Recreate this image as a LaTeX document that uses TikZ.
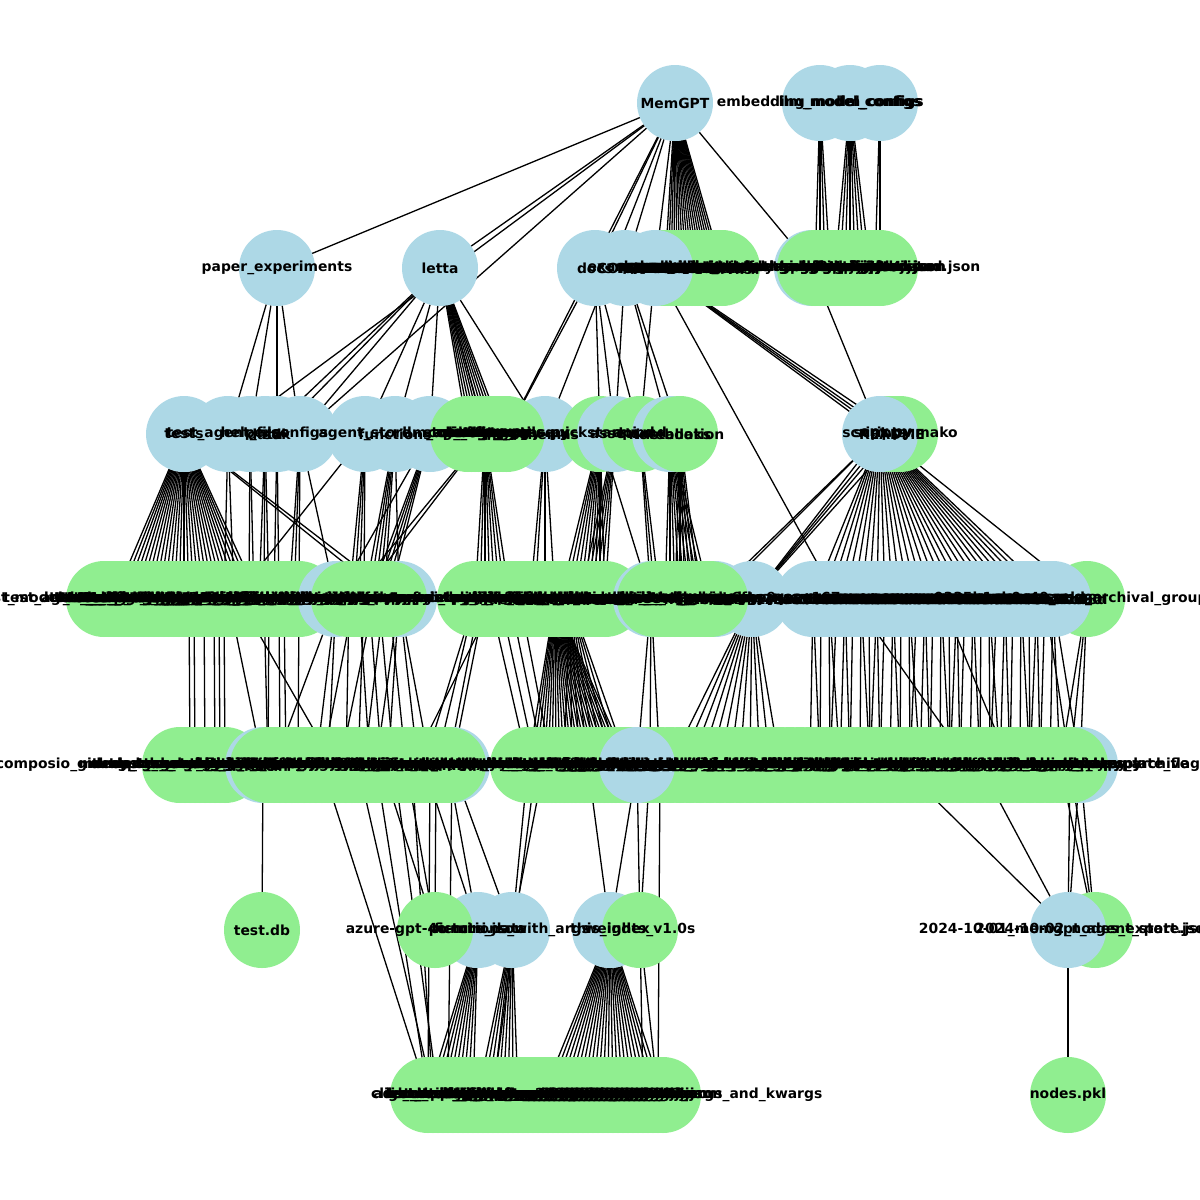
\documentclass[tikz,border=0pt]{standalone}
\usepackage{fontspec}
\setmainfont{DejaVu Sans}
\definecolor{lb}{RGB}{173,216,230}
\definecolor{lg}{RGB}{144,238,144}
\pgfdeclarelayer{bg}\pgfsetlayers{bg,main}
\tikzset{
  dn/.style={circle,fill=lb,minimum size=76pt,inner sep=0pt,outer sep=0pt},
  fn/.style={circle,fill=lg,minimum size=76pt,inner sep=0pt,outer sep=0pt},
  lbl/.style={font=\bfseries\fontsize{13.9}{16}\selectfont,inner sep=0pt},
  ed/.style={draw=black,line width=1.3pt},
}
\newcommand\grp[6]{\foreach \l [count=\i] in #6 {\pgfmathsetmacro\xx{#3+#4*(\i-1)}\node[#1] (#2\i) at (\xx,#5) {};}}
\newcommand\grplbl[2]{\foreach \l [count=\i] in #2 {\node[lbl] at (#1\i) {\l};}}
\def\Lf{README.md,LICENSE,CONTRIBUTING.md,PRIVACY.md,TERMS.md,pyproject.toml,poetry.lock,main.py,Dockerfile,dev-compose.yaml,compose.yaml,alembic.ini,.gitignore,.dockerignore,.env.example,CITATION.cff,nginx.conf,db.sqlite,locust\_test.py,init.sql}
\def\Lj{openai-gpt-4o.json,azure-gpt-4o-mini.json,letta-hosted.json,together-llama-3-70b.json,claude-3-opus.json,gemini-pro.json,groq.json,ollama.json,lmstudio.json,vllm.json,memgpt-hosted.json,openai-gpt-4.json,azure-embed.json,hugging-face-hosted.json}
\def\Lv{agent.py,client.py,config.py,constants.py,errors.py,main.py,utils.py,\_\_init\_\_.py,streaming\_utils.py,helpers.py,orm.py,data\_sources.py}
\def\Lra{test\_model\_letta\_perfomance.py,test\_agent\_serialization.py,test\_client.py,test\_server.py,test\_local\_client.py,test\_summarize.py,test\_tools.py,test\_memory.py,test\_storage.py,test\_cli.py,test\_websocket\_server.py,test\_function\_parser.py,test\_json\_parsers.py,test\_schema\_generator.py,test\_base\_functions.py,test\_autogen\_integration.py,test\_concurrent\_connections.py,test\_different\_embedding\_size.py,test\_endpoints.py,test\_agent\_function\_update.py,test\_tool\_rule\_solver.py,test\_o1\_agent.py,test\_new\_cli.py,test\_openai\_client.py,test\_persistence.py,test\_providers.py,test\_sdk\_client.py,test\_stream\_buffer\_readers.py,test\_timezone\_formatting.py,test\_utils.py,test\_vector\_embeddings.py,test\_ollama.py,test\_admin\_client.py,test\_cli\_integration.py,test\_agent\_tool\_graph.py,test\_local\_llm.py,test\_quickstart.py,test\_tool\_execution\_sandbox.py,conftest.py,pytest.ini}
\def\Lrb{memory.py,credentials.py,settings.py,system.py,log.py,interface.py,streaming\_interface.py,metadata.py,presets.py}
\def\Lrc{openai\_backcompat.py,data\_types.py,embeddings.py,persistence\_manager.py,cli.py,cli\_config.py,cli\_load.py,index.md,quickstart.md,python\_client.md,config.md,storage.md,api.md,cli\_faq.md,discord\_bot.md,embedding\_endpoints.md,example\_chat.md,example\_data.md,functions.md,koboldcpp.md,llamacpp.md,lmstudio.md,local\_llm.md,ollama.md,vllm.md,webui.md,autogen.md}
\def\Lrd{memgpt\_example.py,tool\_rule\_usage.py,composio\_tool\_usage.py,langchain\_tool\_usage.py,crewai\_tool\_usage.py,openai\_client\_assistants.py,swarm.py,docs\_example.py,helper.py,resend\_example.py,notebooks,tutorials}
\def\Lrf{1c8880d671ee,7b189006c97d,9a505cc7eca9,b6d7ca024aa9,c5d964280dff,cda66b6cb0d6,d05669b60ebe,e1a625072dbf,f7507eab4bb9,08b2f8225812,0c315956709d,15b577c62f3f,1e553a664210,22a6e413d89c,3c683a662c82,4e88e702f85e,54dec07619c4,5987401b40ae,6fbe9cace167,7778731d15e2,8d70372ad130,90bb156e71df,95badb46fdf9,a113caac453e,b183663c6769,c85a3d07c028,d14ae606614c,d6632deac81d,e20573fe9b86,ee50a967e090,f81ceea2c08d}
\def\Lqa{composio\_github\_star\_agent\_with\_tool\_rules.af,deep\_research\_agent.af,customer\_service.af,memgpt\_agent\_with\_convo.af,outreach\_workflow\_agent.af,max\_messages.af,knowledge-base.af,chat-with-pdf.af,long\_running\_kill\_agent.af,mock\_alice.af}
\def\Lqb{openai-gpt-4o.json,azure-gpt-4o-mini.json,claude-3-5-sonnet.json,gemini-pro.json,groq.json,ollama.json,together-qwen-2.5-72b.json,letta-hosted.json,lmstudio.json,bedrock-claude-3-5.json,xai-grok-2.json,deepseek-reasoner.json,mistral-large.json,openai-o1-mini.json,vllm.json,koboldcpp.json,llamacpp.json,webui.json,memgpt\_openai.json,memgpt\_hosted.json,sam\_pov.txt,memgpt\_starter.txt,cs\_phd.txt,basic.txt,sam.txt,anna\_pa.txt,google\_search\_persona.txt,memgpt\_doc.txt,o1\_persona.txt,sqldb.txt,space\_explorer.txt}
\def\Lqc{letta\_logo.png,letta-diagram.png,memgpt-system-diagram.png,cpp\_model\_select.png,discord\_bot.png,kobold\_model\_select.png,lmstudio\_settings.png,ollama\_settings.png,webui\_model\_select.png,quickstart\_image.png,python\_client\_test.png,dev\_portal\_agent.png,ade\_screenshot.png,agent\_create.png,tools\_panel.png,memory\_panel.png,context\_window.png,api\_keys.png,archival\_memory.png,data\_sources.png,simple\_agent.png,model\_selector.png,letta\_cloud.png,web\_ui.png,agent\_settings.png,login.png}
\def\Lqd{create\_a\_baseline\_migrations.py,add\_agents\_tags\_table.py,add\_tool\_rules\_to\_agents.py,make\_an\_blocks\_agents\_mapping\_table.py,add\_organization\_to\_passages.py,remove\_module\_field\_on\_tool.py,add\_cascading\_deletes.py,add\_message\_index.py,add\_sandbox\_config\_table.py,add\_provider\_table.py,migrate\_message\_to\_orm.py,add\_tools\_to\_org.py,add\_step\_table.py,add\_job\_usage\_table.py,add\_block\_history.py,rename\_llm\_config.py,add\_is\_deleted\_to\_agents.py,add\_identity\_table.py,add\_agent\_type.py,add\_otid\_column.py,add\_batch\_items.py,add\_template\_columns.py,add\_embedding\_config.py,add\_group\_table.py,add\_sleeptime\_agent.py,add\_run\_completion.py,add\_passages\_org.py,add\_source\_metadata.py,add\_tags\_to\_tools.py,add\_message\_buffer.py,add\_file\_table.py,add\_llm\_batch\_jobs.py,add\_agent\_env\_vars.py,add\_mcp\_servers.py,add\_per\_agent\_locks.py,add\_tool\_return\_char\_limit.py,add\_project\_id.py,add\_timezone.py,add\_message\_group\_id.py,add\_archival\_groups.py,add\_sandbox\_env\_vars.py,add\_last\_run\_ms.py,add\_job\_callbacks.py,add\_agent\_hidden\_and\_template\_flags.py}
\def\Lsa{client\_tools.py,list\_tools.py,add\_numbers.py,multiply.py,get\_weather.py,send\_message.py,search\_web.py,read\_file.py,write\_file.py,query\_db.py,roll\_dice.py,sleep\_tool.py,echo\_tool.py,fetch\_url.py,summarize.py,translate.py,calculator.py,timer.py,weather\_api.py,hello\_world.py}
\begin{document}
\begin{tikzpicture}[x=1pt,y=-1pt]
\useasboundingbox (0,0) rectangle (1200,1200);
% ================= circles (drawing order matters)
% row 0
\node[dn] (m) at (675,103) {};
\node[dn] (c1) at (820,103) {};
\node[dn] (c2) at (850,103) {};
\node[dn] (c3) at (880,103) {};
% row 1
\node[dn] (pe) at (277,268) {};
\node[dn] (le) at (440,268) {};
\grp{fn}{f}{665}{3}{268}{\Lf}
\node[dn] (d1) at (595,268) {};
\node[dn] (d2) at (625,268) {};
\node[dn] (d3) at (655,268) {};
\node[dn] (rc) at (812,268) {};
\grp{fn}{j}{815}{5}{268}{\Lj}
% row 2
\node[dn] (t1) at (184,434) {};
\node[dn] (t2) at (228,434) {};
\node[dn] (t3) at (250,434) {};
\node[dn] (t4) at (265,434) {};
\node[dn] (t5) at (277,434) {};
\node[dn] (t6) at (300,434) {};
\node[dn] (u1) at (365,434) {};
\node[dn] (u2) at (395,434) {};
\node[dn] (u3) at (430,434) {};
\node[dn] (vb) at (485,434) {};
\node[dn] (u4) at (545,434) {};
\grp{fn}{v}{468}{3.5}{434}{\Lv}
\node[fn] (w1) at (600,434) {};
\node[dn] (wb) at (615,434) {};
\node[fn] (w2) at (640,434) {};
\node[dn] (wb2) at (670,434) {};
\node[fn] (w3) at (680,434) {};
\node[fn] (sg1) at (886,434) {};
\node[fn] (sg2) at (892,434) {};
\node[fn] (s2) at (900,434) {};
\node[dn] (s) at (880,434) {};
% row 3
\grp{fn}{r3a}{104}{5}{599}{\Lra}
\node[dn] (r3bb1) at (336,599) {};
\node[dn] (r3bb2) at (399,599) {};
\grp{fn}{r3b}{349}{5}{599}{\Lrb}
\grp{fn}{r3c}{475}{5}{599}{\Lrc}
\node[dn] (r3bc) at (651,599) {};
\node[dn] (r3e1) at (715,599) {};
\node[dn] (r3e2) at (752,599) {};
\grp{fn}{r3d}{655}{5}{599}{\Lrd}
\node[fn] (r3gz) at (1087,599) {};
\grp{dn}{r3f}{813}{8}{599}{\Lrf}
% row 4
\grp{fn}{r4a}{180}{5}{765}{\Lqa}
\node[dn] (r4x1) at (263,765) {};
\node[dn] (r4x2) at (452,765) {};
\grp{fn}{r4b}{268}{6}{765}{\Lqb}
\grp{fn}{r4c}{528}{4}{765}{\Lqc}
\node[dn] (r4x3) at (1080,765) {};
\grp{fn}{r4d}{640}{10}{765}{\Lqd}
\node[dn] (r4x4) at (637,765) {};
% row 5
\node[fn] (td) at (262,930) {};
\node[dn] (r5b1) at (478,930) {};
\node[dn] (r5b2) at (512,930) {};
\node[fn] (r5g1) at (435,930) {};
\node[dn] (r5b3) at (610,930) {};
\node[fn] (r5g2) at (640,930) {};
\node[fn] (r5g3) at (1095,930) {};
\node[dn] (r5b4) at (1068,930) {};
% row 6
\grp{fn}{r6a}{428}{5}{1095}{\Lsa}
\foreach \i in {21,...,47} {\pgfmathsetmacro\xx{428+5*(\i-1)}\node[fn] (r6a\i) at (\xx,1095) {};}
\node[fn] (r6a48) at (663,1095) {};
\node[fn] (np) at (1068,1095) {};
% ================= edges (behind the circles)
\begin{pgfonlayer}{bg}
\foreach \b in {pe,le,d1,d2,d3,rc,t2,t6,u4,v12} \draw[ed] (m) -- (\b);
\foreach \i in {1,...,20} \draw[ed] (m) -- (f\i);
\foreach \i in {1,...,4} \draw[ed] (c1) -- (j\i);
\foreach \i in {5,...,12} \draw[ed] (c2) -- (j\i);
\foreach \i in {13,14} \draw[ed] (c3) -- (j\i);
\foreach \b in {t2,t3,t5,t6} \draw[ed] (pe) -- (\b);
\foreach \b in {t4,t5,t6,u1,u2,u3,vb,v1,v2,v3,v4,v5,v6,v7,v8,v9,v10,v11,u4} \draw[ed] (le) -- (\b);
\foreach \b in {w1,wb,w2,v12} \draw[ed] (d1) -- (\b);
\foreach \b in {wb,wb2,w3} \draw[ed] (d2) -- (\b);
\foreach \b in {w2,s,s2,sg1,sg2,r3f4} \draw[ed] (d3) -- (\b);
\draw[ed] (rc) -- (s);
\foreach \i in {3,...,32} \draw[ed] (t1) -- (r3a\i);
\foreach \b in {r3bb2,r3b9} \draw[ed] (t1) -- (\b);
\foreach \i in {25,27} \draw[ed] (t2) -- (r3a\i);
\foreach \i in {30,31} \draw[ed] (t3) -- (r3a\i);
\foreach \i in {32,33,34} \draw[ed] (t4) -- (r3a\i);
\foreach \i in {35,36} \draw[ed] (t5) -- (r3a\i);
\foreach \b in {r3a38,r3a39,r3a40,r3bb1} \draw[ed] (t6) -- (\b);
\foreach \b in {r3a27,r3b1,r3b2,r3b3,r3b4} \draw[ed] (u1) -- (\b);
\foreach \b in {r3b4,r3b5,r3b6,r3b7,r3b8,r3bb2} \draw[ed] (u2) -- (\b);
\foreach \b in {r3b5,r3b6,r3b7,r3b8,r3b9,r3bb1} \draw[ed] (u3) -- (\b);
\foreach \b in {r3b1,r3b3,r3c1,r3c2,r3c3,r3c4,r3c5,r3c6,r3c7,r3c8} \draw[ed] (vb) -- (\b);
\foreach \b in {r3c12,r3c13,r3c15,r3c17} \draw[ed] (u4) -- (\b);
\foreach \i in {18,...,27} \draw[ed] (w1) -- (r3c\i);
\draw[ed] (w1) -- (r3bc);
\foreach \i in {22,...,27} \draw[ed] (wb) -- (r3c\i);
\foreach \b in {r3bc,r3d1,r3d2} \draw[ed] (w2) -- (\b);
\foreach \i in {3,...,12} \draw[ed] (wb2) -- (r3d\i);
\foreach \i in {5,...,10} \draw[ed] (w3) -- (r3d\i);
\foreach \b in {r3d12,r3e1,r3e2,r3gz} \draw[ed] (s) -- (\b);
\foreach \i in {1,...,31} \draw[ed] (s) -- (r3f\i);
\foreach \b in {s2,sg1,sg2} \draw[ed] (\b) -- (r3e2);
\foreach \p/\q in {r3a18/r4a3,r3a19/r4a4,r3a21/r4a6,r3a23/r4a8,r3a24/r4a9,r3a25/r4a10,r3a26/r4x1,r3a33/r4b1,r3a34/r4b1,r3a28/r4b12,r3a36/r4b3,r3a37/r4b4,r3a40/r4b6,r3bb1/r4b2,r3bb1/r4b9,r3bb1/r4b11,r3b1/r4b14,r3b2/r4b10,r3b3/r4b18,r3b4/r4b16,r3b5/r4b20,r3b6/r4b13,r3b7/r4b22,r3b8/r4b17,r3b9/r4b24,r3bb2/r4b19,r3bb2/r4b21,r3bb2/r4b26,r3bb2/r4b28,r3c1/r4b27,r3c1/r4b29,r3c2/r4b31,r3c3/r4x2,r3c4/r4c1,r3c5/r4b25,r3c6/r4c3,r3c8/r4c5,r3c10/r4c7}
  \draw[ed] (\p) -- (\q);
\foreach \i in {1,...,26} \draw[ed] (r3c17) -- (r4c\i);
\foreach \i in {10,12,...,26} \draw[ed] (r3c20) -- (r4c\i);
\foreach \b in {r4x4,r4d2,r4d3} \draw[ed] (r3bc) -- (\b);
\foreach \i in {4,...,15} \draw[ed] (r3e2) -- (r4d\i);
\foreach \i in {1,...,31} {\pgfmathtruncatemacro\jj{18+(\i-1)*0.8+0.5}\draw[ed] (r3f\i) -- (r4d\jj);}
\foreach \i in {1,3,...,31} {\pgfmathtruncatemacro\jj{19+(\i-1)*0.8+0.5}\draw[ed] (r3f\i) -- (r4d\jj);}
\foreach \p/\q in {r3f6/r4d34,r3f17/r4d38,r3f31/r4x3,r3gz/r4x3,r3gz/r4d44,r3f30/r4d44,r3gz/r4d43}
  \draw[ed] (\p) -- (\q);
\foreach \p/\q in {r4x1/td,r4b10/r6a1,r4b16/r6a2,r4b19/r6a1,r4b20/r5g1,r4b22/r6a3,r4b24/r5g1,r4b25/r6a2,r4b27/r5b1,r4b28/r6a1,r4b29/r5g1,r4b31/r5b1,r4x2/r5b2,r4x2/r6a5,r4c1/r5b2,r4c3/r6a14,r4c5/r5b2,r4c16/r5b3,r4x4/r5b3,r4x4/r5g2,r4d2/r5g2,r4d3/r6a47,r4d27/r5b4,r4d35/r5b4,r4x3/r5g3,r4x3/r5b4,r4d44/r5b4,r4d44/r5g3,r4d43/r5g3}
  \draw[ed] (\p) -- (\q);
\foreach \i in {1,...,10} \draw[ed] (r5b1) -- (r6a\i);
\foreach \i in {11,...,19} \draw[ed] (r5b2) -- (r6a\i);
\foreach \i in {24,...,48} \draw[ed] (r5b3) -- (r6a\i);
\foreach \i in {44,47} \draw[ed] (r5g2) -- (r6a\i);
\draw[ed] (r5b4) -- (np);
\end{pgfonlayer}
% ================= labels (on top of everything)
\node[lbl] at (m) {MemGPT};
\node[lbl] at (c1) {embedding\_model\_configs};
\node[lbl] at (c2) {llm\_model\_configs};
\node[lbl] at (c3) {llm\_configs};
\node[lbl] at (pe) {paper\_experiments};
\node[lbl] at (le) {letta};
\grplbl{f}{\Lf}
\node[lbl] at (d1) {docs};
\node[lbl] at (d2) {examples};
\node[lbl] at (d3) {alembic};
\node[lbl] at (rc) {configs};
\grplbl{j}{\Lj}
\node[lbl] at (t1) {tests};
\node[lbl] at (t2) {test\_agent\_files};
\node[lbl] at (t3) {helpers};
\node[lbl] at (t4) {data};
\node[lbl] at (t5) {sdk};
\node[lbl] at (t6) {configs};
\node[lbl] at (u1) {agent\_store};
\node[lbl] at (u2) {functions};
\node[lbl] at (u3) {llm\_api};
\node[lbl] at (vb) {server};
\node[lbl] at (u4) {schemas};
\grplbl{v}{\Lv}
\node[lbl] at (w1) {quickstart.md};
\node[lbl] at (wb) {assets};
\node[lbl] at (w2) {api.md};
\node[lbl] at (wb2) {notebooks};
\node[lbl] at (w3) {installation};
\node[lbl] at (sg1) {env.py};
\node[lbl] at (sg2) {README};
\node[lbl] at (s2) {script.py.mako};
\node[lbl] at (s) {scripts};
\grplbl{r3a}{\Lra}
\node[lbl] at (r3bb1) {local\_llm};
\node[lbl] at (r3bb2) {prompts};
\grplbl{r3b}{\Lrb}
\grplbl{r3c}{\Lrc}
\node[lbl] at (r3bc) {assets};
\node[lbl] at (r3e1) {swarm};
\node[lbl] at (r3e2) {alembic\_6fbe9cace167};
\grplbl{r3d}{\Lrd}
\node[lbl] at (r3gz) {0335b1eb9c40\_add\_archival\_groups.py};
\grplbl{r3f}{\Lrf}
\grplbl{r4a}{\Lqa}
\node[lbl] at (r4x1) {data};
\node[lbl] at (r4x2) {sandbox};
\grplbl{r4b}{\Lqb}
\grplbl{r4c}{\Lqc}
\node[lbl] at (r4x3) {saved\_agent\_states\_archive};
\grplbl{r4d}{\Lqd}
\node[lbl] at (r4x4) {examples\_data};
\node[lbl] at (td) {test.db};
\node[lbl] at (r5b1) {picture\_data};
\node[lbl] at (r5b2) {functions\_with\_args};
\node[lbl] at (r5g1) {azure-gpt-4o-mini.json};
\node[lbl] at (r5b3) {this\_index};
\node[lbl] at (r5g2) {weights\_v1.0s};
\node[lbl] at (r5g3) {2024-10-02\_nodes\_export.json};
\node[lbl] at (r5b4) {2024-10-01\_memgpt\_agent\_state.json};
\grplbl{r6a}{\Lsa}
\foreach \i in {21,...,47} {\node[lbl] at (r6a\i) {passage\_\i.json};}
\node[lbl] at (r6a48) {function\_with\_optional\_args\_and\_kwargs};
\node[lbl] at (np) {nodes.pkl};
\end{tikzpicture}
\end{document}
